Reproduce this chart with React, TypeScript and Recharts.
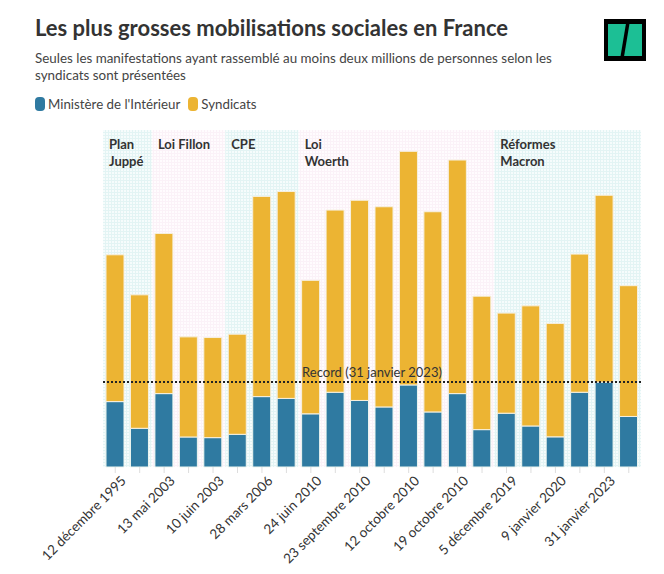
import React from 'react';
import { BarChart, Bar, XAxis, YAxis, ReferenceArea, ReferenceLine } from 'recharts';

document.body.style.margin = '0';

const dates = [
  '12 décembre 1995', '16 décembre 1995', '13 mai 2003', '3 juin 2003', '10 juin 2003',
  '18 mars 2006', '28 mars 2006', '4 avril 2006', '24 juin 2010', '7 septembre 2010',
  '23 septembre 2010', '2 octobre 2010', '12 octobre 2010', '16 octobre 2010', '19 octobre 2010',
  '28 octobre 2010', '5 décembre 2019', '17 décembre 2019', '9 janvier 2020', '19 janvier 2023',
  '31 janvier 2023', '7 février 2023',
];
// millions de manifestants
const interieur = [0.98, 0.58, 1.1, 0.45, 0.44, 0.49, 1.055, 1.028, 0.797, 1.12, 0.997, 0.9, 1.23, 0.825, 1.1, 0.56, 0.806, 0.615, 0.452, 1.12, 1.272, 0.757];
const syndicats = [2.2, 2.0, 2.4, 1.5, 1.5, 1.5, 3.0, 3.1, 2.0, 2.73, 3.0, 3.0, 3.5, 3.0, 3.5, 2.0, 1.5, 1.8, 1.7, 2.07, 2.8, 1.96];

const periods = [
  { lines: ['Plan', 'Juppé'], from: 0, to: 1, fill: 'url(#gridCyan)' },
  { lines: ['Loi Fillon'], from: 2, to: 4, fill: 'url(#gridPink)' },
  { lines: ['CPE'], from: 5, to: 7, fill: 'url(#gridCyan)' },
  { lines: ['Loi', 'Woerth'], from: 8, to: 15, fill: 'url(#gridPink)' },
  { lines: ['Réformes', 'Macron'], from: 16, to: 21, fill: 'url(#gridCyan)' },
];

const record = 1.272;

const data = dates.map((date, i) => ({ date, interieur: interieur[i], syndicats: syndicats[i] }));

const BLUE = '#2f7aa1';
const YELLOW = '#ecb433';
const FONT = 'Lato, sans-serif';

const BandLabel = (props: any) => {
  const { viewBox, lines } = props;
  if (!viewBox) return null;
  return (
    <text x={viewBox.x + 6} y={viewBox.y + 19} fill="#333" fontSize={13} fontWeight={700} fontFamily={FONT}>
      {lines.map((l: string, i: number) => (
        <tspan key={i} x={viewBox.x + 6} dy={i === 0 ? 0 : 17}>{l}</tspan>
      ))}
    </text>
  );
};

const DateTick = (props: any) => {
  const { x, y, payload, index } = props;
  if (index % 2 !== 0) return <g />;
  return (
    <g transform={`translate(${x + 5},${y})`}>
      <text x={0} y={0} dy="0.7em" textAnchor="end" transform="rotate(-45)" fill="#333" fontSize={13.5} fontFamily={FONT}>
        {payload.value}
      </text>
    </g>
  );
};

const Logo = () => (
  <svg width={42} height={42} style={{ position: 'absolute', left: 604, top: 19 }}>
    <rect x={0} y={0} width={42} height={42} fill="#000" />
    <rect x={4} y={5} width={34} height={32} fill="#1cbf95" />
    <line x1={24} y1={3} x2={18} y2={39} stroke="#000" strokeWidth={3.5} />
  </svg>
);

const Swatch = ({ color }: { color: string }) => (
  <span style={{ display: 'inline-block', width: 10, height: 14, borderRadius: 4, background: color, marginRight: 3, verticalAlign: -2 }} />
);

export default function App() {
  return (
    <div style={{ position: 'relative', width: 664, height: 574, background: '#fff', fontFamily: FONT, overflow: 'hidden' }}>
      <div style={{ position: 'absolute', left: 35, top: 14, fontSize: 22, fontWeight: 700, color: '#333', whiteSpace: 'nowrap' }}>
        Les plus grosses mobilisations sociales en France
      </div>
      <div style={{ position: 'absolute', left: 35, top: 50, width: 560, fontSize: 13.4, lineHeight: '17px', color: '#444' }}>
        Seules les manifestations ayant rassemblé au moins deux millions de personnes selon les
        <br />
        syndicats sont présentées
      </div>
      <div style={{ position: 'absolute', left: 35, top: 96, fontSize: 13.3, color: '#444', whiteSpace: 'nowrap' }}>
        <Swatch color={BLUE} />Ministère de l'Intérieur
        <span style={{ display: 'inline-block', width: 8 }} />
        <Swatch color={YELLOW} />Syndicats
      </div>
      <Logo />
      <div style={{ position: 'absolute', left: 0, top: 0 }}>
        <BarChart width={664} height={574} data={data} margin={{ top: 130, right: 23, bottom: 7, left: 103 }}>
          <defs>
            <pattern id="gridCyan" width={3} height={3} patternUnits="userSpaceOnUse">
              <rect width={3} height={3} fill="#f6fcfc" />
              <path d="M0 0.5H3M0.5 0V3" stroke="#e3f4f4" strokeWidth={1} />
            </pattern>
            <pattern id="gridPink" width={3} height={3} patternUnits="userSpaceOnUse">
              <rect width={3} height={3} fill="#fffcfe" />
              <path d="M0 0.5H3M0.5 0V3" stroke="#fbf2f8" strokeWidth={1} />
            </pattern>
          </defs>
          <XAxis
            dataKey="date"
            interval={0}
            height={100}
            axisLine={false}
            tickLine={{ stroke: '#ddd' }}
            tickSize={6}
            tick={<DateTick />}
          />
          <YAxis hide domain={[0, 5.05]} />
          {periods.map((p, i) => (
            <ReferenceArea
              key={i}
              x1={dates[p.from]}
              x2={dates[p.to]}
              fill={p.fill}
              fillOpacity={1}
              stroke="none"
              label={<BandLabel lines={p.lines} />}
            />
          ))}
          <Bar dataKey="interieur" stackId="a" fill={BLUE} barSize={18} stroke="#eef6f0" strokeWidth={1} isAnimationActive={false} />
          <Bar dataKey="syndicats" stackId="a" fill={YELLOW} barSize={18} stroke="#f6f0e0" strokeWidth={1} isAnimationActive={false} />
          <ReferenceLine
            y={record}
            stroke="#222"
            strokeWidth={2}
            strokeDasharray="2 2"
            label={{ value: 'Record (31 janvier 2023)', position: 'top', fill: '#333', fontSize: 13, fontFamily: FONT }}
          />
        </BarChart>
      </div>
    </div>
  );
}
